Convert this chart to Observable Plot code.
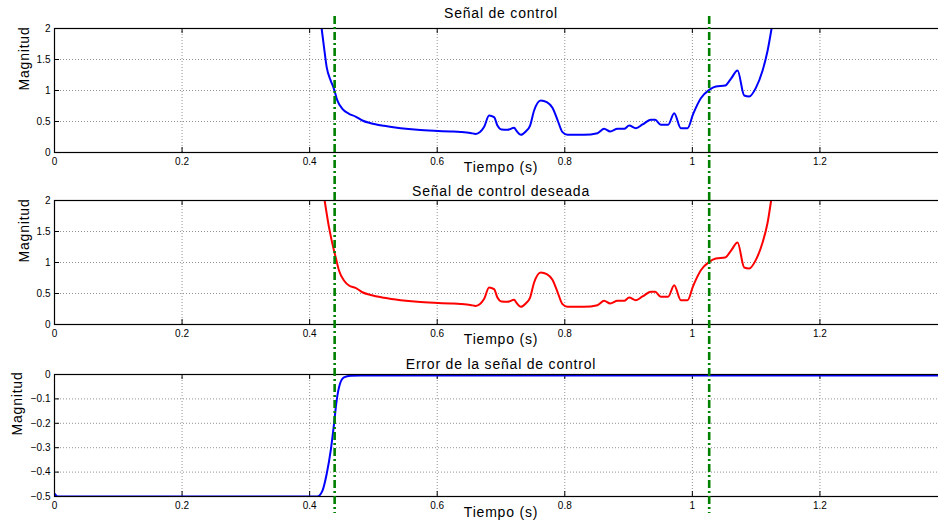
<!DOCTYPE html>
<html><head><meta charset="utf-8">
<script src="https://cdn.jsdelivr.net/npm/d3@7"></script>
<script src="https://cdn.jsdelivr.net/npm/@observablehq/plot@0.6"></script>
<style>
html,body{margin:0;padding:0;background:#fff;overflow:hidden}
#fig{position:relative;width:938px;height:527px;overflow:hidden;background:#fff}
#fig svg{position:absolute;left:0;font-family:"Liberation Sans",Arial,Helvetica,sans-serif}
#fig svg g[aria-label="text"] text{letter-spacing:0.8px}
</style></head><body><div id="fig"></div>
<script>
// ---- data ----
const xTicks = [0, 0.2, 0.4, 0.6, 0.8, 1, 1.2];
const xTickLabels = ["0", "0.2", "0.4", "0.6", "0.8", "1", "1.2"];
const yTicksControl = [0, 0.5, 1, 1.5, 2];
const yTickLabelsControl = ["0", "0.5", "1", "1.5", "2"];
const yTicksError = [-0.5, -0.4, -0.3, -0.2, -0.1, 0];
const yTickLabelsError = ["\u22120.5", "\u22120.4", "\u22120.3", "\u22120.2", "\u22120.1", "0"];
const titles = ["Señal de control", "Señal de control deseada", "Error de la señal de control"];
const xLabel = "Tiempo (s)";
const yLabel = "Magnitud";
const markerTimes = [0.4392, 1.0264];

const controlT = [0.4188,0.4225,0.4267,0.433,0.438,0.4434,0.4513,0.4617,0.472,0.4826,0.4957,0.5166,0.5427,0.5689,0.595,0.621,0.637,0.652,0.6604,0.6734,0.6813,0.6891,0.6944,0.7007,0.7101,0.7205,0.7247,0.731,0.7388,0.7456,0.7519,0.7624,0.7718,0.7807,0.7885,0.7964,0.8042,0.8303,0.8513,0.8617,0.8711,0.8827,0.8931,0.9009,0.9114,0.9219,0.9349,0.9417,0.9506,0.962,0.9715,0.982,0.9925,1.0013,1.0133,1.0264,1.0369,1.0515,1.0604,1.0709,1.0813,1.0891,1.0996,1.1101,1.118,1.1242];
const controlV = [2.0,1.70,1.376,1.16,1.03,0.84,0.705,0.624,0.58,0.516,0.473,0.43,0.392,0.366,0.35,0.339,0.33,0.315,0.30,0.41,0.597,0.57,0.435,0.371,0.366,0.398,0.344,0.285,0.339,0.435,0.677,0.839,0.812,0.72,0.527,0.328,0.285,0.285,0.312,0.382,0.339,0.382,0.382,0.435,0.392,0.452,0.527,0.527,0.446,0.446,0.634,0.392,0.392,0.624,0.876,1.011,1.065,1.08,1.188,1.323,0.919,0.903,1.043,1.323,1.645,2.0];

const desiredT = [0.4235,0.4303,0.4382,0.4408,0.446,0.4538,0.4617,0.472,0.4826,0.4957,0.5166,0.5427,0.5689,0.595,0.621,0.637,0.652,0.6604,0.6734,0.6813,0.6891,0.6944,0.7007,0.7101,0.7205,0.7247,0.731,0.7388,0.7456,0.7519,0.7624,0.7718,0.7807,0.7885,0.7964,0.8042,0.8303,0.8513,0.8617,0.8711,0.8827,0.8931,0.9009,0.9114,0.9219,0.9349,0.9417,0.9506,0.962,0.9715,0.982,0.9925,1.0013,1.0133,1.0264,1.0369,1.0515,1.0604,1.0709,1.0813,1.0891,1.0996,1.1101,1.118,1.1235];
const desiredV = [2.0,1.57,1.19,1.085,0.871,0.71,0.629,0.592,0.52,0.475,0.43,0.392,0.366,0.35,0.339,0.33,0.315,0.30,0.41,0.597,0.57,0.435,0.371,0.366,0.398,0.344,0.285,0.339,0.435,0.677,0.839,0.812,0.72,0.527,0.328,0.285,0.285,0.312,0.382,0.339,0.382,0.382,0.435,0.392,0.452,0.527,0.527,0.446,0.446,0.634,0.392,0.392,0.624,0.876,1.011,1.065,1.08,1.188,1.323,0.919,0.903,1.043,1.323,1.645,2.0];

const errorT = [0,0.003,0.006,0.412,0.42,0.4267,0.433,0.4382,0.4423,0.4476,0.4538,0.4643,0.48,1.4];
const errorV = [-0.488,-0.497,-0.5,-0.5,-0.477,-0.408,-0.312,-0.203,-0.107,-0.038,-0.012,-0.005,-0.004,-0.004];

// ---- drawing ----
const W = 947, ML = 54, XDOM = [0, 1.4];
const fig = document.getElementById("fig");
const zip = (t, v) => t.map((d, i) => ({t: d, v: v[i]}));

function panel({top, height, mt, mb, ydom, yTicks, yLabels, data, color, title, titleDy, ylabDx, xlabDy}) {
  const h = height - mt - mb;
  const w = W - ML;
  const svg = Plot.plot({
    width: W, height, marginTop: mt, marginBottom: mb, marginLeft: ML, marginRight: 0,
    style: {background: "transparent", overflow: "visible", maxWidth: "none", top: top + "px"},
    x: {domain: XDOM},
    y: {domain: ydom},
    marks: [
      Plot.gridX(xTicks.filter(d => d > XDOM[0]), {stroke: "#777", strokeOpacity: 1, strokeWidth: 0.8, strokeDasharray: "1,2"}),
      Plot.gridY(yTicks.filter(d => d > ydom[0] && d < ydom[1]), {stroke: "#777", strokeOpacity: 1, strokeWidth: 0.8, strokeDasharray: "1,2"}),
      Plot.tickX(xTicks, {x: d => d, insetTop: h - 5, stroke: "black"}),
      Plot.tickX(xTicks, {x: d => d, insetBottom: h - 5, stroke: "black"}),
      Plot.tickY(yTicks, {y: d => d, insetRight: w - 5, stroke: "black"}),
      Plot.line(data, {x: "t", y: "v", stroke: color, strokeWidth: 2, curve: "monotone-x", clip: true}),
      Plot.frame({stroke: "black", strokeWidth: 1.2}),
      Plot.axisX(xTicks, {tickSize: 0, tickPadding: 5, fontSize: 10, label: null,
        tickFormat: d => xTickLabels[xTicks.indexOf(d)]}),
      Plot.axisY(yTicks, {tickSize: 0, tickPadding: 4, fontSize: 10, label: null,
        tickFormat: d => yLabels[yTicks.indexOf(d)]}),
      Plot.text([title], {frameAnchor: "top", dy: titleDy, fontSize: 14, lineAnchor: "middle", fill: "black"}),
      Plot.text([xLabel], {frameAnchor: "bottom", dy: xlabDy, fontSize: 14, lineAnchor: "middle", fill: "black"}),
      Plot.text([yLabel], {frameAnchor: "left", dx: ylabDx, rotate: -90, fontSize: 14, lineAnchor: "middle", fill: "black"})
    ]
  });
  fig.appendChild(svg);
}

panel({top: 0, height: 170, mt: 28, mb: 18, ydom: [0, 2], yTicks: yTicksControl, yLabels: yTickLabelsControl,
  data: zip(controlT, controlV), color: "#0000ff", title: titles[0], titleDy: -14.5, ylabDx: -30, xlabDy: 15.5});
panel({top: 170, height: 170, mt: 30, mb: 16, ydom: [0, 2], yTicks: yTicksControl, yLabels: yTickLabelsControl,
  data: zip(desiredT, desiredV), color: "#ff0000", title: titles[1], titleDy: -8.5, ylabDx: -30, xlabDy: 15.5});
panel({top: 340, height: 187, mt: 34, mb: 31, ydom: [-0.5, 0], yTicks: yTicksError, yLabels: yTickLabelsError,
  data: zip(errorT, errorV), color: "#0000ff", title: titles[2], titleDy: -9.5, ylabDx: -36.5, xlabDy: 16});

// dash-dot markers spanning all panels
const overlay = Plot.plot({
  width: W, height: 527, marginTop: 16, marginBottom: 14, marginLeft: ML, marginRight: 0,
  style: {background: "transparent", overflow: "visible", maxWidth: "none", top: "0px", pointerEvents: "none"},
  x: {domain: XDOM, axis: null},
  y: {domain: [0, 1], axis: null},
  marks: [
    Plot.ruleX(markerTimes, {x: d => d, stroke: "#008000", strokeWidth: 2.6, strokeDasharray: "8,3,2,3"})
  ]
});
fig.appendChild(overlay);
</script></body></html>
